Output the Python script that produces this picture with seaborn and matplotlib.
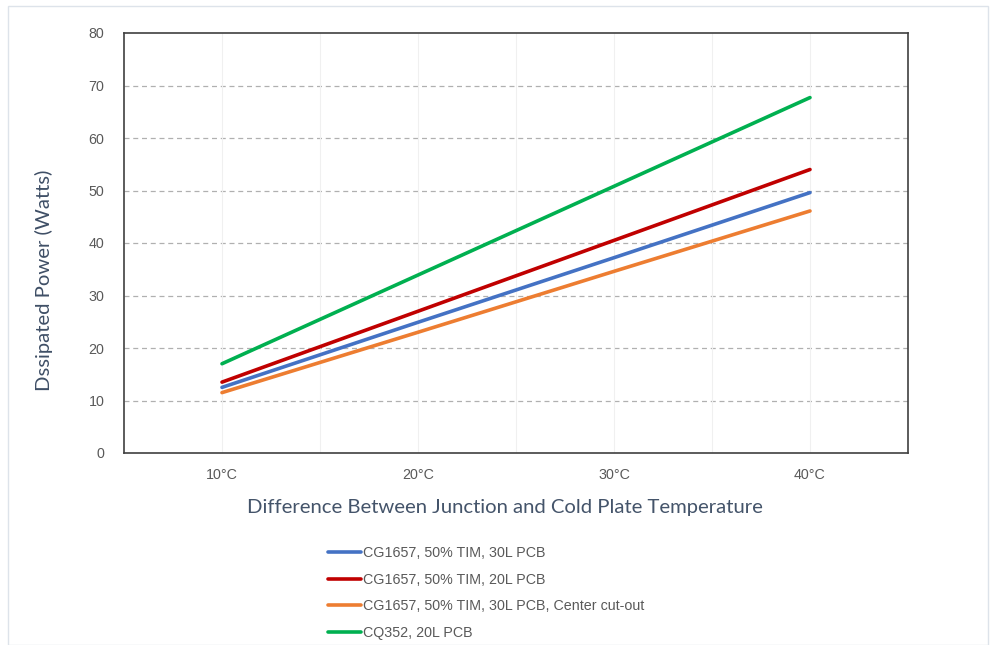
import numpy as np
import pandas as pd
import matplotlib
matplotlib.use("Agg")
import matplotlib.pyplot as plt
import seaborn as sns
from matplotlib.patches import Rectangle

temps = [10, 20, 30, 40]
series = [
    "CG1657, 50% TIM, 30L PCB",
    "CG1657, 50% TIM, 20L PCB",
    "CG1657, 50% TIM, 30L PCB, Center cut-out",
    "CQ352, 20L PCB",
]
blue_vals = [12.5, 24.9, 37.2, 49.6]
red_vals = [13.5, 27.0, 40.5, 54.0]
orange_vals = [11.5, 23.0, 34.6, 46.1]
green_vals = [17.0, 33.9, 50.8, 67.7]
colors = ["#4472C4", "#C00000", "#ED7D31", "#00B050"]

df = pd.DataFrame({
    "temp": temps * 4,
    "power": blue_vals + red_vals + orange_vals + green_vals,
    "series": [s for s in series for _ in temps],
})

sns.set_style("white")
plt.rcParams["font.family"] = ["Liberation Sans", "DejaVu Sans"]

fig = plt.figure(figsize=(9.95, 6.45), dpi=100)
ax = fig.add_axes([124 / 995, 1 - 453 / 645, (908 - 124) / 995, (453 - 33) / 645])

sns.lineplot(data=df, x="temp", y="power", hue="series", palette=colors,
             hue_order=series, linewidth=2.6, ax=ax, legend=False)

ax.set_xlim(5, 45)
ax.set_ylim(0, 80)
ax.set_yticks(np.arange(0, 81, 10))
ax.set_xticks(temps)
ax.set_xticklabels([f"{t}°C" for t in temps])
ax.set_xticks(np.arange(5, 46, 5), minor=True)

ax.grid(False)
for y in range(10, 80, 10):
    ax.axhline(y, color="#b0b0b0", linestyle=(0, (4, 3)), linewidth=0.9, zorder=0)
for x in range(10, 45, 5):
    ax.axvline(x, color="#f0f0f0", linewidth=0.8, zorder=0)

for s in ax.spines.values():
    s.set_color("#404040")
    s.set_linewidth(1.2)

ax.tick_params(axis="x", which="both", direction="out", length=5, width=1.2,
               color="#404040", labelsize=10.3, labelcolor="#595959", pad=6)
ax.tick_params(axis="y", length=0, labelsize=10.3, labelcolor="#595959", pad=14)

ax.set_xlabel("Difference Between Junction and Cold Plate Temperature",
              fontsize=14.6, color="#44546A", family=["Lato", "DejaVu Sans"])
ax.xaxis.set_label_coords(0.486, -0.109)
ax.set_ylabel("Dssipated Power (Watts)", fontsize=14.6, color="#3f4f66",
              family=["Lato", "DejaVu Sans"])
ax.yaxis.set_label_coords(-0.090, 0.412)

handles = [plt.Line2D([], [], color=c, linewidth=2.6) for c in colors]
fig.legend(handles, series, loc="upper left", bbox_to_anchor=(322 / 995, 1 - 540 / 645),
           frameon=False, fontsize=10.3, labelcolor="#595959", handlelength=2.3,
           handletextpad=0.15, labelspacing=0.9, borderaxespad=0)

fig.patches.append(Rectangle((8 / 995, 0), 980 / 995, 1 - 6 / 645, transform=fig.transFigure,
                             fill=False, edgecolor="#dde3ea", linewidth=1))

fig.savefig("out.png", dpi=100)
